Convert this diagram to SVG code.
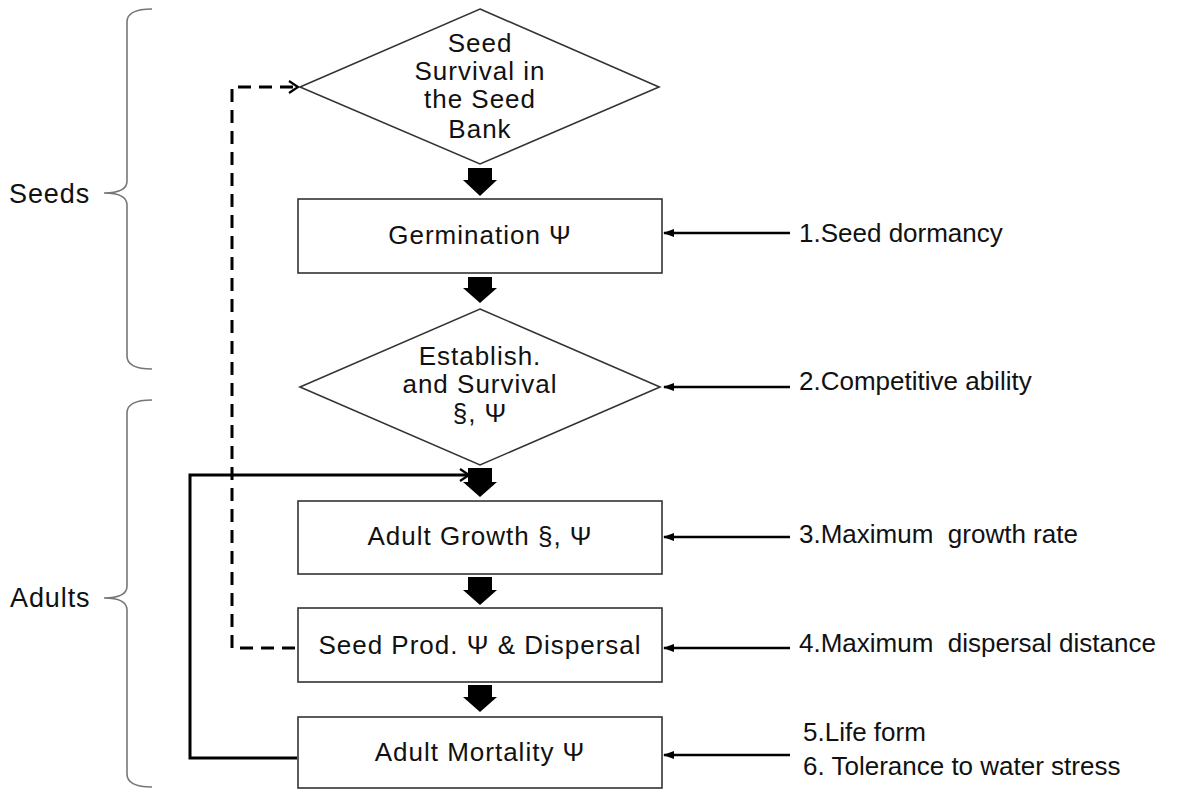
<svg xmlns="http://www.w3.org/2000/svg" width="1199" height="789" viewBox="0 0 1199 789">
<defs>
<style>
text{font-family:"Liberation Sans",Arial,sans-serif;font-size:26px;fill:#111}
.c{text-anchor:middle;letter-spacing:1px}
.lbl{font-size:27px;letter-spacing:0.9px}
.shape{fill:#fff;stroke:#333;stroke-width:1.6}
.brace{fill:none;stroke:#777;stroke-width:1.6}
.blk{fill:#000}
.thin{fill:none;stroke:#000;stroke-width:2.5}
.dash{fill:none;stroke:#000;stroke-width:3;stroke-dasharray:13 8}
.loop{fill:none;stroke:#000;stroke-width:3}
</style>
<marker id="small" markerWidth="12" markerHeight="10" refX="10" refY="5" orient="auto" markerUnits="userSpaceOnUse">
<path d="M0,1 L11,5 L0,9 Z" fill="#000"/>
</marker>
<marker id="open" markerWidth="16" markerHeight="16" refX="13" refY="8" orient="auto" markerUnits="userSpaceOnUse">
<path d="M4,2 L13,8 L4,14" fill="none" stroke="#000" stroke-width="2.2"/>
</marker>
</defs>
<rect width="1199" height="789" fill="#fff"/>

<g id="brace-seeds">
<path class="brace" d="M152,9 Q127,9 127,22 L127,181 Q127,193 104,193 Q127,193 127,205 L127,356 Q127,369 152,369"/>
<text class="lbl" x="9" y="203">Seeds</text>
</g>
<g id="brace-adults">
<path class="brace" d="M152,400 Q127,400 127,413 L127,586 Q127,598 104,598 Q127,598 127,610 L127,774 Q127,787 152,787"/>
<text class="lbl" x="10" y="607">Adults</text>
</g>

<g id="connectors">
<path class="blk" d="M468,168 H492 V180 H497 L480,196 L463,180 H468 Z"/>
<path class="blk" d="M468,277 H492 V288 H497 L480,303 L463,288 H468 Z"/>
<path class="blk" d="M468,468 H492 V482 H497 L480,497 L463,482 H468 Z"/>
<path class="blk" d="M468,577 H492 V590 H497 L480,605 L463,590 H468 Z"/>
<path class="blk" d="M468,685 H492 V697 H497 L480,712 L463,697 H468 Z"/>
<path class="dash" d="M295,648 H232 V87 H298" marker-end="url(#open)"/>
<path class="loop" d="M297,758 H190 V475 H469" marker-end="url(#open)"/>
<line class="thin" x1="790" y1="233" x2="664" y2="233" marker-end="url(#small)"/>
<line class="thin" x1="790" y1="387" x2="664" y2="387" marker-end="url(#small)"/>
<line class="thin" x1="790" y1="537" x2="664" y2="537" marker-end="url(#small)"/>
<line class="thin" x1="790" y1="648" x2="664" y2="648" marker-end="url(#small)"/>
<line class="thin" x1="790" y1="755" x2="664" y2="755" marker-end="url(#small)"/>
</g>

<g id="seed-survival">
<polygon class="shape" points="480,9 659,87 480,164 300,87"/>
<text class="c" x="480" y="52">Seed</text>
<text class="c" x="480" y="80">Survival in</text>
<text class="c" x="480" y="108">the Seed</text>
<text class="c" x="480" y="138">Bank</text>
</g>
<g id="germination">
<rect class="shape" x="298" y="199" width="364" height="74"/>
<text class="c" x="480" y="244">Germination Ψ</text>
</g>
<g id="establishment">
<polygon class="shape" points="480,309 660,387 480,465 300,387"/>
<text class="c" x="480" y="365">Establish.</text>
<text class="c" x="480" y="393">and Survival</text>
<text class="c" x="480" y="422">§, Ψ</text>
</g>
<g id="adult-growth">
<rect class="shape" x="298" y="501" width="364" height="73"/>
<text class="c" x="480" y="545">Adult Growth §, Ψ</text>
</g>
<g id="seed-prod">
<rect class="shape" x="298" y="608" width="364" height="74"/>
<text class="c" x="480" y="654">Seed Prod. Ψ &amp; Dispersal</text>
</g>
<g id="adult-mortality">
<rect class="shape" x="298" y="717" width="364" height="71"/>
<text class="c" x="480" y="761">Adult Mortality Ψ</text>
</g>

<g id="traits">
<text x="799" y="242">1.Seed dormancy</text>
<text x="799" y="390">2.Competitive ability</text>
<text x="799" y="543" xml:space="preserve">3.Maximum  growth rate</text>
<text x="799" y="652" xml:space="preserve">4.Maximum  dispersal distance</text>
<text x="803" y="741">5.Life form</text>
<text x="803" y="775">6. Tolerance to water stress</text>
</g>
</svg>
